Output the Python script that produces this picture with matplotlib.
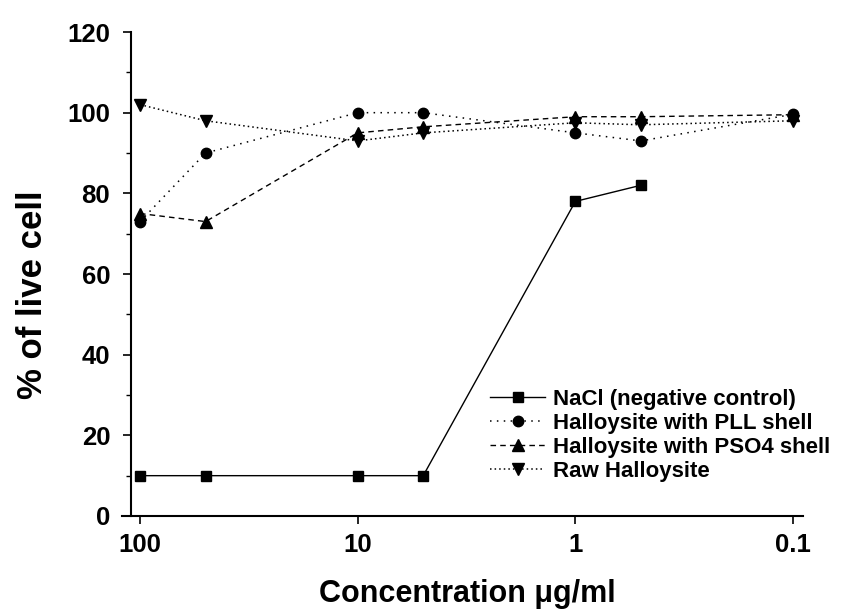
import matplotlib
matplotlib.use("Agg")
import matplotlib.pyplot as plt
from matplotlib.ticker import FixedLocator, MultipleLocator, NullLocator

plt.rcParams['font.family'] = ['Liberation Sans', 'DejaVu Sans']
plt.rcParams['font.weight'] = 'bold'

# Concentrations (µg/ml)
conc = [100, 50, 10, 5, 1, 0.5, 0.1]
conc_nacl = [100, 50, 10, 5, 1, 0.5]

# Viability (% of live cells)
nacl = [10, 10, 10, 10, 78, 82]
pll = [73, 90, 100, 100, 95, 93, 99.6]
pso4 = [75, 73, 95, 96.5, 99, 99, 99.5]
raw = [102, 98, 93, 95, 97.5, 97, 98]

labels = ["NaCl (negative control)", "Halloysite with PLL shell",
          "Halloysite with PSO4 shell", "Raw Halloysite"]
xticks = [100, 10, 1, 0.1]
xtick_labels = ["100", "10", "1", "0.1"]

fig = plt.figure(figsize=(8.58, 6.10), dpi=100)
ax = fig.add_axes([0.1527, 0.1541, 0.7832, 0.7934])

ax.plot(conc_nacl, nacl, color='black', linestyle='-', linewidth=1.0,
        marker='s', markersize=7, label=labels[0])
ax.plot(conc, pll, color='black', linestyle=(0, (1, 3.5)), linewidth=1.1,
        marker='o', markersize=7.5, label=labels[1])
ax.plot(conc, pso4, color='black', linestyle=(0, (4, 3)), linewidth=1.0,
        marker='^', markersize=8.5, label=labels[2])
ax.plot(conc, raw, color='black', linestyle=(0, (1, 2)), linewidth=1.1,
        marker='v', markersize=8.5, label=labels[3])

ax.set_xscale('log')
ax.set_xlim(110, 0.09)
ax.set_ylim(0, 120)

ax.xaxis.set_major_locator(FixedLocator(xticks))
ax.set_xticklabels(xtick_labels)
ax.xaxis.set_minor_locator(NullLocator())
ax.yaxis.set_major_locator(MultipleLocator(20))
ax.yaxis.set_minor_locator(MultipleLocator(10))

for side in ('top', 'right'):
    ax.spines[side].set_visible(False)
for side in ('left', 'bottom'):
    ax.spines[side].set_linewidth(1.5)
# bottom axis line runs a little past the left axis
ax.spines['bottom'].set_bounds(121, 0.09)

ax.tick_params(axis='both', which='major', direction='out', length=6,
               width=1.2, labelsize=18.5)
ax.tick_params(axis='x', which='major', pad=6)
ax.tick_params(axis='y', which='major', pad=9)
ax.tick_params(axis='y', which='minor', direction='out', length=3.5, width=1.0)
for lbl in ax.get_xticklabels() + ax.get_yticklabels():
    lbl.set_fontweight('bold')

ax.set_xlabel("Concentration μg/ml", fontsize=22, fontweight='bold')
ax.set_ylabel("% of live cell", fontsize=25, fontweight='bold')
ax.xaxis.set_label_coords(0.5, -0.130)
ax.yaxis.set_label_coords(-0.122, 0.457)

leg = ax.legend(loc='upper left', bbox_to_anchor=(0.534, 0.2624), frameon=False,
                fontsize=16, handlelength=2.5, handletextpad=0.36,
                labelspacing=0.13, borderpad=0, borderaxespad=0)
for t in leg.get_texts():
    t.set_fontweight('bold')

fig.savefig("out.png", dpi=100)
